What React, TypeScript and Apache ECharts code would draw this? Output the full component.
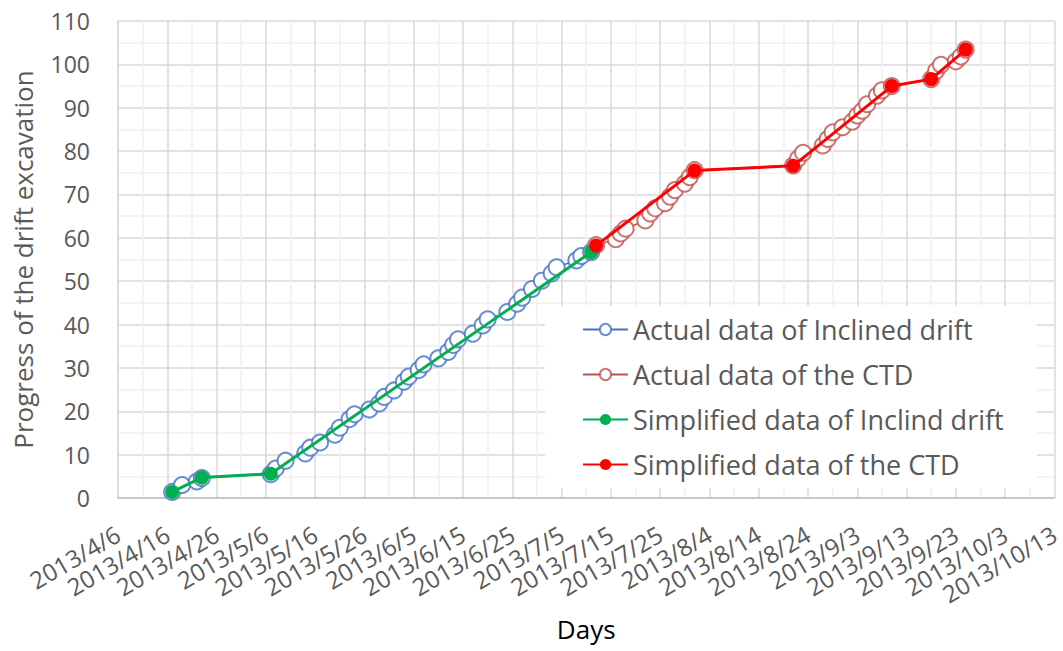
import React, { useEffect, useRef } from "react";
import * as echarts from "echarts";

// Axis range and tick labels (days are counted from the start date)
const START_DATE = "2013-04-06";
const END_DATE = "2013-10-13";
const DAY_STEP = 10;
const Y_TICKS = [0, 10, 20, 30, 40, 50, 60, 70, 80, 90, 100, 110];

// Actual data of the inclined drift
const inclinedDates = [
  "2013-04-17", "2013-04-19", "2013-04-22", "2013-04-23", "2013-05-07", "2013-05-08",
  "2013-05-10", "2013-05-14", "2013-05-15", "2013-05-17", "2013-05-20", "2013-05-21",
  "2013-05-23", "2013-05-24", "2013-05-27", "2013-05-29", "2013-05-30", "2013-06-01",
  "2013-06-03", "2013-06-04", "2013-06-06", "2013-06-07", "2013-06-10", "2013-06-12",
  "2013-06-13", "2013-06-14", "2013-06-17", "2013-06-19", "2013-06-20", "2013-06-24",
  "2013-06-26", "2013-06-27", "2013-06-29", "2013-07-01", "2013-07-03", "2013-07-04",
  "2013-07-08", "2013-07-09", "2013-07-11",
];
const inclinedValues = [
  1.4, 3.0, 3.8, 4.6, 5.5, 6.8,
  8.6, 10.3, 11.6, 12.8, 14.6, 16.2,
  18.2, 19.3, 20.4, 21.8, 23.3, 24.8,
  26.8, 28.0, 29.5, 30.8, 32.2, 33.7,
  35.3, 36.6, 37.9, 39.8, 41.2, 42.9,
  44.8, 46.2, 48.2, 50.1, 51.8, 53.2,
  54.8, 55.8, 56.7,
];

// Actual data of the CTD
const ctdDates = [
  "2013-07-12", "2013-07-16", "2013-07-17", "2013-07-18", "2013-07-22", "2013-07-23",
  "2013-07-24", "2013-07-26", "2013-07-27", "2013-07-28", "2013-07-30", "2013-07-31",
  "2013-08-01", "2013-08-21", "2013-08-22", "2013-08-23", "2013-08-27", "2013-08-28",
  "2013-08-29", "2013-08-31", "2013-09-02", "2013-09-03", "2013-09-04", "2013-09-05",
  "2013-09-07", "2013-09-08", "2013-09-10", "2013-09-18", "2013-09-19", "2013-09-20",
  "2013-09-23", "2013-09-24", "2013-09-25",
];
const ctdValues = [
  58.3, 59.7, 61.0, 62.1, 64.0, 65.6,
  66.8, 68.0, 69.5, 71.0, 72.5, 74.0,
  75.6, 76.7, 78.3, 79.6, 81.3, 82.8,
  84.3, 85.5, 86.8, 88.2, 89.3, 90.8,
  92.8, 94.0, 95.0, 96.6, 98.5, 99.9,
  100.7, 101.8, 103.4,
];

// Simplified data of the inclined drift
const simpleInclinedDates = ["2013-04-17", "2013-04-23", "2013-05-07", "2013-07-11"];
const simpleInclinedValues = [1.4, 4.7, 5.6, 56.7];

// Simplified data of the CTD
const simpleCtdDates = ["2013-07-12", "2013-08-01", "2013-08-21", "2013-09-10", "2013-09-18", "2013-09-25"];
const simpleCtdValues = [58.2, 75.5, 76.6, 95.0, 96.6, 103.4];

const DAY_MS = 86400000;
const parseUTC = (s: string) => {
  const [y, m, d] = s.split("-").map(Number);
  return Date.UTC(y, m - 1, d);
};
const startMs = parseUTC(START_DATE);
const dayOffset = (s: string) => Math.round((parseUTC(s) - startMs) / DAY_MS);
const offsetLabel = (v: number) => {
  const dt = new Date(startMs + v * DAY_MS);
  return `${dt.getUTCFullYear()}/${dt.getUTCMonth() + 1}/${dt.getUTCDate()}`;
};
const pairs = (dates: string[], values: number[]) => dates.map((d, i) => [dayOffset(d), values[i]]);

const FONT = "'Open Sans', 'Noto Sans', sans-serif";
const TEXT = "#595959";

export default function App() {
  const ref = useRef<HTMLDivElement>(null);

  useEffect(() => {
    if (!ref.current) return;
    const chart = echarts.init(ref.current, undefined, { renderer: "svg" });
    chart.setOption({
      animation: false,
      backgroundColor: "#ffffff",
      textStyle: { fontFamily: FONT },
      grid: { left: 118, right: 6, top: 21, bottom: 153, containLabel: false },
      legend: {
        orient: "vertical",
        left: 545,
        top: 306,
        backgroundColor: "#ffffff",
        padding: [9, 33, 9, 37],
        itemWidth: 45,
        itemHeight: 14,
        itemGap: 16,
        textStyle: { fontFamily: FONT, fontSize: 27, color: TEXT, lineHeight: 29 },
        data: [
          "Actual data of Inclined drift",
          "Actual data of the CTD",
          "Simplified data of Inclind drift",
          "Simplified data of the CTD",
        ],
      },
      xAxis: {
        type: "value",
        min: 0,
        max: dayOffset(END_DATE),
        interval: DAY_STEP,
        name: "Days",
        nameLocation: "middle",
        nameGap: 118,
        nameTextStyle: { fontFamily: FONT, fontSize: 26, color: "#000000" },
        axisLine: { show: true, lineStyle: { color: "#bfbfbf", width: 1.5 } },
        axisTick: { show: false },
        axisLabel: {
          rotate: 30,
          interval: 0,
          hideOverlap: false,
          margin: 34,
          fontFamily: FONT,
          fontSize: 24,
          color: TEXT,
          formatter: (v: number) => offsetLabel(v),
        },
        splitLine: { show: true, lineStyle: { color: "#d9d9d9", width: 1.5 } },
        minorTick: { show: false, splitNumber: 2 },
        minorSplitLine: { show: true, lineStyle: { color: "#f0f0f0", width: 1.5 } },
      },
      yAxis: {
        type: "value",
        min: Y_TICKS[0],
        max: Y_TICKS[Y_TICKS.length - 1],
        interval: Y_TICKS[1] - Y_TICKS[0],
        name: "Progress of the drift excavation",
        nameLocation: "middle",
        nameGap: 82,
        nameTextStyle: { fontFamily: FONT, fontSize: 26, color: TEXT },
        axisLine: { show: true, lineStyle: { color: "#d9d9d9", width: 1.5 } },
        axisTick: { show: false },
        axisLabel: { margin: 28, fontFamily: FONT, fontSize: 23, color: TEXT },
        splitLine: { show: true, lineStyle: { color: "#d9d9d9", width: 1.5 } },
        minorTick: { show: false, splitNumber: 2 },
        minorSplitLine: { show: true, lineStyle: { color: "#f0f0f0", width: 1.5 } },
      },
      series: [
        {
          name: "Actual data of Inclined drift",
          type: "line",
          data: pairs(inclinedDates, inclinedValues),
          symbol: "emptyCircle",
          symbolSize: 16,
          lineStyle: { color: "#4472c4", width: 1.5 },
          itemStyle: { color: "rgba(68,114,196,0.8)", borderWidth: 1.6 },
          z: 2,
        },
        {
          name: "Actual data of the CTD",
          type: "line",
          data: pairs(ctdDates, ctdValues),
          symbol: "emptyCircle",
          symbolSize: 16,
          lineStyle: { color: "#c0504d", width: 1.5 },
          itemStyle: { color: "rgba(192,80,77,0.8)", borderWidth: 1.6 },
          z: 2,
        },
        {
          name: "Simplified data of Inclind drift",
          type: "line",
          data: pairs(simpleInclinedDates, simpleInclinedValues),
          symbol: "circle",
          symbolSize: 14,
          lineStyle: { color: "#00b050", width: 3 },
          itemStyle: { color: "#00b050" },
          z: 3,
        },
        {
          name: "Simplified data of the CTD",
          type: "line",
          data: pairs(simpleCtdDates, simpleCtdValues),
          symbol: "circle",
          symbolSize: 14,
          lineStyle: { color: "#ff0000", width: 3 },
          itemStyle: { color: "#ff0000" },
          z: 3,
        },
      ],
    });
    return () => chart.dispose();
  }, []);

  return (
    <div
      ref={ref}
      style={{ position: "fixed", left: 0, top: 0, width: 1063, height: 651 }}
    />
  );
}
